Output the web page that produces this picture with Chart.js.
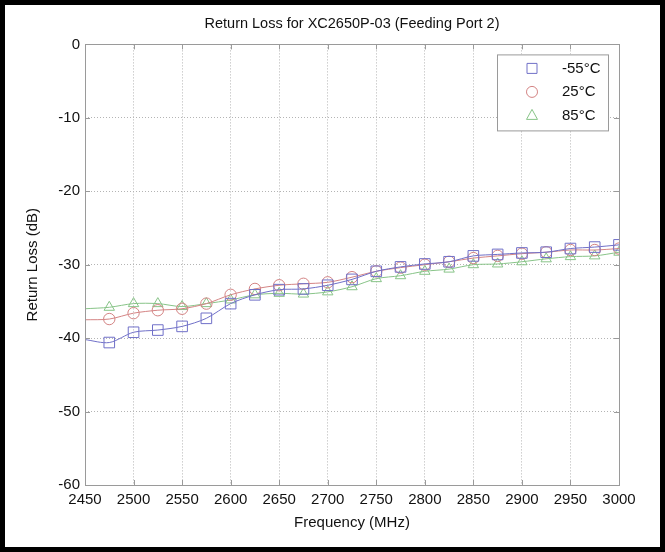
<!DOCTYPE html>
<html>
<head>
<meta charset="utf-8">
<script src="https://cdn.jsdelivr.net/npm/chart.js@4/dist/chart.umd.min.js"></script>
<style>
  html, body { margin: 0; padding: 0; background: #fff; }
  canvas { display: block; }
</style>
</head>
<body>
<canvas id="chart" width="665" height="552"></canvas>
<script>
// frequency points (MHz), markers every 25 MHz from 2475
const freqs = [2450, 2475, 2500, 2525, 2550, 2575, 2600, 2625, 2650, 2675, 2700, 2725,
  2750, 2775, 2800, 2825, 2850, 2875, 2900, 2925, 2950, 2975, 3000];

const lossMinus55 = [-40.2, -40.6, -39.2, -38.9, -38.4, -37.3, -35.3, -34.1, -33.4, -33.3, -32.8, -32.0,
  -30.9, -30.3, -29.9, -29.6, -28.8, -28.6, -28.4, -28.3, -27.8, -27.6, -27.3];
const loss25 = [-37.5, -37.4, -36.6, -36.2, -36.0, -35.3, -34.1, -33.3, -32.8, -32.6, -32.4, -31.7,
  -30.9, -30.4, -30.0, -29.6, -29.1, -28.8, -28.5, -28.3, -28.0, -28.0, -27.8];
const loss85 = [-36.0, -35.8, -35.3, -35.3, -35.7, -35.3, -34.8, -34.1, -33.9, -34.0, -33.7, -33.0,
  -31.9, -31.5, -30.9, -30.6, -30.0, -29.9, -29.6, -29.2, -28.9, -28.8, -28.3];

const seriesLabels = ["-55°C", "25°C", "85°C"];
const xTicks = [2450, 2500, 2550, 2600, 2650, 2700, 2750, 2800, 2850, 2900, 2950, 3000];
const yTicks = [0, -10, -20, -30, -40, -50, -60];

const FONT = '"Liberation Sans", Arial, Helvetica, sans-serif';

function makeSet(label, values, color, style, radius) {
  return {
    label: label,
    data: freqs.map((f, i) => ({ x: f, y: values[i] })),
    borderColor: color,
    backgroundColor: "rgba(0,0,0,0)",
    borderWidth: 1,
    pointStyle: style,
    pointRadius: freqs.map(f => (f === freqs[0] ? 0 : radius)),
    pointBorderColor: color,
    pointBorderWidth: 1,
    pointBackgroundColor: "rgba(0,0,0,0)",
    tension: 0.3,
  };
}

// white page + black picture border
const pageFrame = {
  id: "pageFrame",
  beforeDraw(chart) {
    const ctx = chart.ctx;
    ctx.save();
    ctx.fillStyle = "#fff";
    ctx.fillRect(0, 0, chart.width, chart.height);
    ctx.restore();
  },
  afterDraw(chart) {
    const ctx = chart.ctx;
    ctx.save();
    ctx.strokeStyle = "#000";
    ctx.lineWidth = 10;
    ctx.strokeRect(0, 0, chart.width, chart.height);
    ctx.restore();
  },
};

// axes box with inward ticks, matlab style
const axesBox = {
  id: "axesBox",
  afterDatasetsDraw(chart) {
    const { ctx, chartArea: a, scales } = chart;
    const t = 5;
    ctx.save();
    ctx.strokeStyle = "#9a9a9a";
    ctx.lineWidth = 1;
    ctx.beginPath();
    scales.x.ticks.forEach(tk => {
      const px = Math.round(scales.x.getPixelForValue(tk.value)) + 0.5;
      ctx.moveTo(px, a.bottom); ctx.lineTo(px, a.bottom - t);
      ctx.moveTo(px, a.top); ctx.lineTo(px, a.top + t);
    });
    scales.y.ticks.forEach(tk => {
      const py = Math.round(scales.y.getPixelForValue(tk.value)) + 0.5;
      ctx.moveTo(a.left, py); ctx.lineTo(a.left + t, py);
      ctx.moveTo(a.right, py); ctx.lineTo(a.right - t, py);
    });
    ctx.stroke();
    ctx.strokeRect(Math.round(a.left) + 0.5, Math.round(a.top) + 0.5,
      Math.round(a.right - a.left), Math.round(a.bottom - a.top));
    ctx.restore();
  },
};

// legend box in the upper right of the axes
const boxLegend = {
  id: "boxLegend",
  afterDatasetsDraw(chart) {
    const { ctx, chartArea: a } = chart;
    const w = 111, h = 76;
    const left = a.right - 11 - w, top = a.top + 10;
    ctx.save();
    ctx.fillStyle = "#fff";
    ctx.fillRect(left, top, w, h);
    ctx.strokeStyle = "#9a9a9a";
    ctx.lineWidth = 1;
    ctx.strokeRect(left + 0.5, top + 0.5, w, h);
    chart.data.datasets.forEach((ds, i) => {
      const cx = left + 35, cy = top + 14 + i * 23.5;
      ctx.strokeStyle = ds.borderColor;
      ctx.beginPath();
      if (ds.pointStyle === "rect") {
        ctx.rect(cx - 5, cy - 5, 10, 10);
      } else if (ds.pointStyle === "circle") {
        ctx.arc(cx, cy, 5.5, 0, Math.PI * 2);
      } else {
        ctx.moveTo(cx, cy - 6);
        ctx.lineTo(cx + 5.5, cy + 4);
        ctx.lineTo(cx - 5.5, cy + 4);
        ctx.closePath();
      }
      ctx.stroke();
      ctx.fillStyle = "#111";
      ctx.font = "15px " + FONT;
      ctx.textAlign = "left";
      ctx.textBaseline = "middle";
      ctx.fillText(ds.label, left + 65, cy);
    });
    ctx.restore();
  },
};

new Chart(document.getElementById("chart"), {
  type: "line",
  data: {
    datasets: [
      makeSet(seriesLabels[0], lossMinus55, "#7070c8", "rect", 7.5),
      makeSet(seriesLabels[1], loss25, "#d48484", "circle", 5.7),
      makeSet(seriesLabels[2], loss85, "#88c488", "triangle", 6),
    ],
  },
  options: {
    responsive: false,
    animation: false,
    devicePixelRatio: 1,
    layout: { padding: { left: 0, right: 46, top: 0, bottom: 0 } },
    plugins: {
      legend: { display: false },
      tooltip: { enabled: false },
      title: {
        display: true,
        fullSize: false,
        text: "Return Loss for XC2650P-03 (Feeding Port 2)",
        color: "#111",
        font: { family: FONT, size: 14.5, weight: "normal" },
        padding: { top: 15, bottom: 12 },
      },
    },
    scales: {
      x: {
        type: "linear",
        min: 2450,
        max: 3000,
        afterBuildTicks: s => { s.ticks = xTicks.map(v => ({ value: v })); },
        afterFit: s => { s.height = 67; },
        ticks: {
          color: "#111",
          font: { family: FONT, size: 15 },
          padding: 6,
          maxRotation: 0,
          autoSkip: false,
          callback: v => String(v),
        },
        grid: { color: "#b4b4b4", drawTicks: false },
        border: { display: false, dash: [1, 2] },
        title: {
          display: true,
          text: "Frequency (MHz)",
          color: "#111",
          font: { family: FONT, size: 15 },
          padding: { top: 4, bottom: 20 },
        },
      },
      y: {
        min: -60,
        max: 0,
        afterBuildTicks: s => { s.ticks = yTicks.map(v => ({ value: v })); },
        afterFit: s => { s.width = 85; },
        ticks: {
          color: "#111",
          font: { family: FONT, size: 15 },
          padding: 5,
          callback: v => String(v),
        },
        grid: { color: "#b4b4b4", drawTicks: false },
        border: { display: false, dash: [1, 2] },
        title: {
          display: true,
          text: "Return Loss (dB)",
          color: "#111",
          font: { family: FONT, size: 15 },
          padding: { top: 24, bottom: 4 },
        },
      },
    },
  },
  plugins: [pageFrame, axesBox, boxLegend],
});
</script>
</body>
</html>
